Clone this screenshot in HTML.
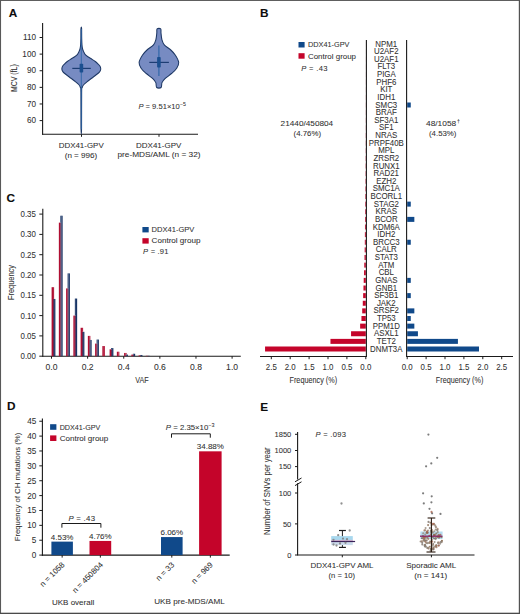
<!DOCTYPE html>
<html><head><meta charset="utf-8"><style>
html,body{margin:0;padding:0;background:#fff;overflow:hidden;width:520px;height:614px;}
.wrap{position:relative;width:520px;height:614px;overflow:hidden;}
svg{display:block;font-family:"Liberation Sans", sans-serif;}
</style></head><body><div class="wrap">
<svg width="520" height="614" viewBox="0 0 520 614">
<rect x="0" y="0" width="520" height="614" fill="#fff"/>
<text x="8.8" y="16.7" font-size="11.8" text-anchor="start" fill="#0d0d0d" stroke="#0d0d0d" stroke-width="0.1" font-weight="bold" font-style="normal" >A</text>
<text x="260.0" y="16.5" font-size="11.8" text-anchor="start" fill="#0d0d0d" stroke="#0d0d0d" stroke-width="0.1" font-weight="bold" font-style="normal" >B</text>
<text x="6.6" y="202.1" font-size="11.8" text-anchor="start" fill="#0d0d0d" stroke="#0d0d0d" stroke-width="0.1" font-weight="bold" font-style="normal" >C</text>
<text x="7.0" y="410.4" font-size="11.8" text-anchor="start" fill="#0d0d0d" stroke="#0d0d0d" stroke-width="0.1" font-weight="bold" font-style="normal" >D</text>
<text x="260.2" y="410.7" font-size="11.8" text-anchor="start" fill="#0d0d0d" stroke="#0d0d0d" stroke-width="0.1" font-weight="bold" font-style="normal" >E</text>
<line x1="42.6" y1="23" x2="42.6" y2="134.8" stroke="#1a1a1a" stroke-width="1.1" />
<line x1="42.050000000000004" y1="134.3" x2="198" y2="134.3" stroke="#1a1a1a" stroke-width="1.1" />
<line x1="39.6" y1="120.6" x2="42.6" y2="120.6" stroke="#1a1a1a" stroke-width="1" />
<text x="36.0" y="123.2" font-size="8.6" text-anchor="end" fill="#303030" stroke="#303030" stroke-width="0.06" font-weight="normal" font-style="normal" textLength="9.09" lengthAdjust="spacingAndGlyphs" >60</text>
<line x1="39.6" y1="103.97999999999999" x2="42.6" y2="103.97999999999999" stroke="#1a1a1a" stroke-width="1" />
<text x="36.0" y="106.58" font-size="8.6" text-anchor="end" fill="#303030" stroke="#303030" stroke-width="0.06" font-weight="normal" font-style="normal" textLength="9.09" lengthAdjust="spacingAndGlyphs" >70</text>
<line x1="39.6" y1="87.36" x2="42.6" y2="87.36" stroke="#1a1a1a" stroke-width="1" />
<text x="36.0" y="89.96" font-size="8.6" text-anchor="end" fill="#303030" stroke="#303030" stroke-width="0.06" font-weight="normal" font-style="normal" textLength="9.09" lengthAdjust="spacingAndGlyphs" >80</text>
<line x1="39.6" y1="70.74" x2="42.6" y2="70.74" stroke="#1a1a1a" stroke-width="1" />
<text x="36.0" y="73.34" font-size="8.6" text-anchor="end" fill="#303030" stroke="#303030" stroke-width="0.06" font-weight="normal" font-style="normal" textLength="9.09" lengthAdjust="spacingAndGlyphs" >90</text>
<line x1="39.6" y1="54.120000000000005" x2="42.6" y2="54.120000000000005" stroke="#1a1a1a" stroke-width="1" />
<text x="36.0" y="56.72" font-size="8.6" text-anchor="end" fill="#303030" stroke="#303030" stroke-width="0.06" font-weight="normal" font-style="normal" textLength="13.63" lengthAdjust="spacingAndGlyphs" >100</text>
<line x1="39.6" y1="37.5" x2="42.6" y2="37.5" stroke="#1a1a1a" stroke-width="1" />
<text x="36.0" y="40.1" font-size="8.6" text-anchor="end" fill="#303030" stroke="#303030" stroke-width="0.06" font-weight="normal" font-style="normal" textLength="13.03" lengthAdjust="spacingAndGlyphs" >110</text>
<line x1="81.5" y1="134.3" x2="81.5" y2="136.8" stroke="#1a1a1a" stroke-width="1" />
<line x1="159" y1="134.3" x2="159" y2="136.8" stroke="#1a1a1a" stroke-width="1" />
<text transform="translate(17.1,78.1) rotate(-90)" font-size="9.0" text-anchor="middle" fill="#303030" stroke="#303030" stroke-width="0.06" textLength="27.7" lengthAdjust="spacingAndGlyphs">MCV (fL)</text>
<text x="81.2" y="147.6" font-size="7.9" text-anchor="middle" fill="#303030" stroke="#303030" stroke-width="0.06" font-weight="normal" font-style="normal" textLength="45.0" lengthAdjust="spacingAndGlyphs" >DDX41-GPV</text>
<text x="81.0" y="157.7" font-size="7.9" text-anchor="middle" fill="#303030" stroke="#303030" stroke-width="0.06" font-weight="normal" font-style="normal" textLength="32.6" lengthAdjust="spacingAndGlyphs" >(n = 996)</text>
<text x="158.7" y="148.3" font-size="7.9" text-anchor="middle" fill="#303030" stroke="#303030" stroke-width="0.06" font-weight="normal" font-style="normal" textLength="45.2" lengthAdjust="spacingAndGlyphs" >DDX41-GPV</text>
<text x="159.0" y="157.0" font-size="7.9" text-anchor="middle" fill="#303030" stroke="#303030" stroke-width="0.06" font-weight="normal" font-style="normal" textLength="83.0" lengthAdjust="spacingAndGlyphs" >pre-MDS/AML (n = 32)</text>
<text x="138.4" y="109.0" font-size="7.6" text-anchor="start" fill="#303030" stroke="#303030" stroke-width="0.06"><tspan font-style="italic">P</tspan> = 9.51×10<tspan font-size="5.3" dy="-3.3">−5</tspan></text>
<path d="M81.60,28.20 C81.72,29.83 81.63,35.20 81.70,38.00 C81.77,40.80 81.85,43.17 82.00,45.00 C82.15,46.83 82.30,47.83 82.60,49.00 C82.90,50.17 83.35,51.07 83.80,52.00 C84.25,52.93 84.55,53.77 85.30,54.60 C86.05,55.43 87.20,56.23 88.30,57.00 C89.40,57.77 90.73,58.45 91.90,59.20 C93.07,59.95 94.30,60.73 95.30,61.50 C96.30,62.27 97.13,63.05 97.90,63.80 C98.67,64.55 99.43,65.23 99.90,66.00 C100.37,66.77 100.62,67.65 100.70,68.40 C100.78,69.15 100.77,69.73 100.40,70.50 C100.03,71.27 99.68,71.92 98.50,73.00 C97.32,74.08 95.05,75.67 93.30,77.00 C91.55,78.33 89.57,79.75 88.00,81.00 C86.43,82.25 84.87,83.42 83.90,84.50 C82.93,85.58 82.58,86.25 82.20,87.50 C81.83,88.75 81.76,85.05 81.65,92.00 C81.54,98.95 81.65,123.00 81.55,129.20 C81.45,135.40 81.15,135.40 81.05,129.20 C80.95,123.00 81.06,98.95 80.95,92.00 C80.84,85.05 80.77,88.75 80.40,87.50 C80.02,86.25 79.67,85.58 78.70,84.50 C77.73,83.42 76.17,82.25 74.60,81.00 C73.03,79.75 71.05,78.33 69.30,77.00 C67.55,75.67 65.28,74.08 64.10,73.00 C62.92,71.92 62.57,71.27 62.20,70.50 C61.83,69.73 61.82,69.15 61.90,68.40 C61.98,67.65 62.23,66.77 62.70,66.00 C63.17,65.23 63.93,64.55 64.70,63.80 C65.47,63.05 66.30,62.27 67.30,61.50 C68.30,60.73 69.53,59.95 70.70,59.20 C71.87,58.45 73.20,57.77 74.30,57.00 C75.40,56.23 76.55,55.43 77.30,54.60 C78.05,53.77 78.35,52.93 78.80,52.00 C79.25,51.07 79.70,50.17 80.00,49.00 C80.30,47.83 80.45,46.83 80.60,45.00 C80.75,43.17 80.83,40.80 80.90,38.00 C80.97,35.20 80.88,29.83 81.00,28.20 C81.12,26.57 81.48,26.57 81.60,28.20Z" fill="#778bc2" stroke="#1e3865" stroke-width="1.05" stroke-linejoin="round"/>
<path d="M160.70,28.90 C161.35,29.58 160.80,31.22 161.00,33.00 C161.20,34.78 161.35,37.63 161.90,39.60 C162.45,41.57 162.82,43.07 164.30,44.80 C165.78,46.53 168.95,48.27 170.80,50.00 C172.65,51.73 174.08,53.13 175.40,55.20 C176.72,57.27 178.48,60.23 178.70,62.40 C178.92,64.57 177.90,66.35 176.70,68.20 C175.50,70.05 173.45,71.75 171.50,73.50 C169.55,75.25 166.58,77.18 165.00,78.70 C163.42,80.22 162.65,81.13 162.00,82.60 C161.35,84.07 161.98,86.68 161.10,87.50 C160.22,88.32 157.58,88.32 156.70,87.50 C155.82,86.68 156.45,84.07 155.80,82.60 C155.15,81.13 154.38,80.22 152.80,78.70 C151.22,77.18 148.25,75.25 146.30,73.50 C144.35,71.75 142.30,70.05 141.10,68.20 C139.90,66.35 138.88,64.57 139.10,62.40 C139.32,60.23 141.08,57.27 142.40,55.20 C143.72,53.13 145.15,51.73 147.00,50.00 C148.85,48.27 152.02,46.53 153.50,44.80 C154.98,43.07 155.35,41.57 155.90,39.60 C156.45,37.63 156.60,34.78 156.80,33.00 C157.00,31.22 156.45,29.58 157.10,28.90 C157.75,28.22 160.05,28.22 160.70,28.90Z" fill="#778bc2" stroke="#1e3865" stroke-width="1.05" stroke-linejoin="round"/>
<line x1="81.3" y1="29.0" x2="81.3" y2="129.5" stroke="#3068a8" stroke-width="0.9" />
<line x1="72.3" y1="68.4" x2="90.8" y2="68.4" stroke="#1d3d73" stroke-width="1.2" />
<rect x="79.60" y="63.80" width="3.60" height="8.70" fill="#1b4f8f" rx="0.8"/>
<line x1="158.9" y1="45.4" x2="158.9" y2="76" stroke="#2b64a6" stroke-width="1.1" />
<line x1="149.3" y1="62.4" x2="168.9" y2="62.4" stroke="#1d3d73" stroke-width="1.2" />
<rect x="157.10" y="57.00" width="3.60" height="10.60" fill="#1b4f8f" rx="0.8"/>
<rect x="365.78" y="41.50" width="0.02" height="5.00" fill="#c4042a" />
<text x="386.3" y="46.6" font-size="8.2" text-anchor="middle" fill="#303030" stroke="#303030" stroke-width="0.06" font-weight="normal" font-style="normal" textLength="21.87" lengthAdjust="spacingAndGlyphs" >NPM1</text>
<rect x="365.78" y="49.12" width="0.02" height="5.00" fill="#c4042a" />
<text x="386.3" y="54.23" font-size="8.2" text-anchor="middle" fill="#303030" stroke="#303030" stroke-width="0.06" font-weight="normal" font-style="normal" textLength="24.5" lengthAdjust="spacingAndGlyphs" >U2AF2</text>
<rect x="365.76" y="56.75" width="0.04" height="5.00" fill="#c4042a" />
<text x="386.3" y="61.85" font-size="8.2" text-anchor="middle" fill="#303030" stroke="#303030" stroke-width="0.06" font-weight="normal" font-style="normal" textLength="24.5" lengthAdjust="spacingAndGlyphs" >U2AF1</text>
<rect x="365.76" y="64.38" width="0.04" height="5.00" fill="#c4042a" />
<text x="386.3" y="69.47" font-size="8.2" text-anchor="middle" fill="#303030" stroke="#303030" stroke-width="0.06" font-weight="normal" font-style="normal" textLength="17.79" lengthAdjust="spacingAndGlyphs" >FLT3</text>
<rect x="365.76" y="72.00" width="0.04" height="5.00" fill="#c4042a" />
<text x="386.3" y="77.1" font-size="8.2" text-anchor="middle" fill="#303030" stroke="#303030" stroke-width="0.06" font-weight="normal" font-style="normal" textLength="18.81" lengthAdjust="spacingAndGlyphs" >PIGA</text>
<rect x="365.74" y="79.62" width="0.06" height="5.00" fill="#c4042a" />
<text x="386.3" y="84.72" font-size="8.2" text-anchor="middle" fill="#303030" stroke="#303030" stroke-width="0.06" font-weight="normal" font-style="normal" textLength="20.12" lengthAdjust="spacingAndGlyphs" >PHF6</text>
<rect x="365.74" y="87.25" width="0.06" height="5.00" fill="#c4042a" />
<text x="386.3" y="92.35" font-size="8.2" text-anchor="middle" fill="#303030" stroke="#303030" stroke-width="0.06" font-weight="normal" font-style="normal" textLength="12.25" lengthAdjust="spacingAndGlyphs" >KIT</text>
<rect x="365.72" y="94.88" width="0.08" height="5.00" fill="#c4042a" />
<text x="386.3" y="99.97" font-size="8.2" text-anchor="middle" fill="#303030" stroke="#303030" stroke-width="0.06" font-weight="normal" font-style="normal" textLength="17.93" lengthAdjust="spacingAndGlyphs" >IDH1</text>
<rect x="365.72" y="102.50" width="0.08" height="5.00" fill="#c4042a" />
<rect x="407.20" y="102.50" width="3.57" height="5.00" fill="#10498a" />
<text x="386.3" y="107.6" font-size="8.2" text-anchor="middle" fill="#303030" stroke="#303030" stroke-width="0.06" font-weight="normal" font-style="normal" textLength="21.87" lengthAdjust="spacingAndGlyphs" >SMC3</text>
<rect x="365.71" y="110.12" width="0.09" height="5.00" fill="#c4042a" />
<text x="386.3" y="115.22" font-size="8.2" text-anchor="middle" fill="#303030" stroke="#303030" stroke-width="0.06" font-weight="normal" font-style="normal" textLength="20.99" lengthAdjust="spacingAndGlyphs" >BRAF</text>
<rect x="365.69" y="117.75" width="0.11" height="5.00" fill="#c4042a" />
<text x="386.3" y="122.85" font-size="8.2" text-anchor="middle" fill="#303030" stroke="#303030" stroke-width="0.06" font-weight="normal" font-style="normal" textLength="24.07" lengthAdjust="spacingAndGlyphs" >SF3A1</text>
<rect x="365.69" y="125.38" width="0.11" height="5.00" fill="#c4042a" />
<text x="386.3" y="130.47" font-size="8.2" text-anchor="middle" fill="#303030" stroke="#303030" stroke-width="0.06" font-weight="normal" font-style="normal" textLength="14.44" lengthAdjust="spacingAndGlyphs" >SF1</text>
<rect x="365.65" y="133.00" width="0.15" height="5.00" fill="#c4042a" />
<text x="386.3" y="138.1" font-size="8.2" text-anchor="middle" fill="#303030" stroke="#303030" stroke-width="0.06" font-weight="normal" font-style="normal" textLength="21.87" lengthAdjust="spacingAndGlyphs" >NRAS</text>
<rect x="365.65" y="140.62" width="0.15" height="5.00" fill="#c4042a" />
<text x="386.3" y="145.72" font-size="8.2" text-anchor="middle" fill="#303030" stroke="#303030" stroke-width="0.06" font-weight="normal" font-style="normal" textLength="35.0" lengthAdjust="spacingAndGlyphs" >PRPF40B</text>
<rect x="365.61" y="148.25" width="0.19" height="5.00" fill="#c4042a" />
<text x="386.3" y="153.35" font-size="8.2" text-anchor="middle" fill="#303030" stroke="#303030" stroke-width="0.06" font-weight="normal" font-style="normal" textLength="16.19" lengthAdjust="spacingAndGlyphs" >MPL</text>
<rect x="365.57" y="155.88" width="0.23" height="5.00" fill="#c4042a" />
<text x="386.3" y="160.97" font-size="8.2" text-anchor="middle" fill="#303030" stroke="#303030" stroke-width="0.06" font-weight="normal" font-style="normal" textLength="25.81" lengthAdjust="spacingAndGlyphs" >ZRSR2</text>
<rect x="365.54" y="163.50" width="0.26" height="5.00" fill="#c4042a" />
<text x="386.3" y="168.6" font-size="8.2" text-anchor="middle" fill="#303030" stroke="#303030" stroke-width="0.06" font-weight="normal" font-style="normal" textLength="26.68" lengthAdjust="spacingAndGlyphs" >RUNX1</text>
<rect x="365.50" y="171.12" width="0.30" height="5.00" fill="#c4042a" />
<text x="386.3" y="176.22" font-size="8.2" text-anchor="middle" fill="#303030" stroke="#303030" stroke-width="0.06" font-weight="normal" font-style="normal" textLength="25.38" lengthAdjust="spacingAndGlyphs" >RAD21</text>
<rect x="365.42" y="178.75" width="0.38" height="5.00" fill="#c4042a" />
<text x="386.3" y="183.85" font-size="8.2" text-anchor="middle" fill="#303030" stroke="#303030" stroke-width="0.06" font-weight="normal" font-style="normal" textLength="20.12" lengthAdjust="spacingAndGlyphs" >EZH2</text>
<rect x="365.35" y="186.38" width="0.45" height="5.00" fill="#c4042a" />
<text x="386.3" y="191.47" font-size="8.2" text-anchor="middle" fill="#303030" stroke="#303030" stroke-width="0.06" font-weight="normal" font-style="normal" textLength="27.12" lengthAdjust="spacingAndGlyphs" >SMC1A</text>
<rect x="365.27" y="194.00" width="0.53" height="5.00" fill="#c4042a" />
<text x="386.3" y="199.1" font-size="8.2" text-anchor="middle" fill="#303030" stroke="#303030" stroke-width="0.06" font-weight="normal" font-style="normal" textLength="31.5" lengthAdjust="spacingAndGlyphs" >BCORL1</text>
<rect x="365.20" y="201.62" width="0.60" height="5.00" fill="#c4042a" />
<rect x="407.20" y="201.62" width="3.57" height="5.00" fill="#10498a" />
<text x="386.3" y="206.72" font-size="8.2" text-anchor="middle" fill="#303030" stroke="#303030" stroke-width="0.06" font-weight="normal" font-style="normal" textLength="25.23" lengthAdjust="spacingAndGlyphs" >STAG2</text>
<rect x="365.12" y="209.25" width="0.68" height="5.00" fill="#c4042a" />
<text x="386.3" y="214.35" font-size="8.2" text-anchor="middle" fill="#303030" stroke="#303030" stroke-width="0.06" font-weight="normal" font-style="normal" textLength="21.44" lengthAdjust="spacingAndGlyphs" >KRAS</text>
<rect x="365.04" y="216.88" width="0.76" height="5.00" fill="#c4042a" />
<rect x="407.20" y="216.88" width="7.14" height="5.00" fill="#10498a" />
<text x="386.3" y="221.97" font-size="8.2" text-anchor="middle" fill="#303030" stroke="#303030" stroke-width="0.06" font-weight="normal" font-style="normal" textLength="22.74" lengthAdjust="spacingAndGlyphs" >BCOR</text>
<rect x="364.97" y="224.50" width="0.83" height="5.00" fill="#c4042a" />
<text x="386.3" y="229.6" font-size="8.2" text-anchor="middle" fill="#303030" stroke="#303030" stroke-width="0.06" font-weight="normal" font-style="normal" textLength="27.12" lengthAdjust="spacingAndGlyphs" >KDM6A</text>
<rect x="364.89" y="232.12" width="0.91" height="5.00" fill="#c4042a" />
<text x="386.3" y="237.22" font-size="8.2" text-anchor="middle" fill="#303030" stroke="#303030" stroke-width="0.06" font-weight="normal" font-style="normal" textLength="17.93" lengthAdjust="spacingAndGlyphs" >IDH2</text>
<rect x="364.82" y="239.75" width="0.98" height="5.00" fill="#c4042a" />
<rect x="407.20" y="239.75" width="3.57" height="5.00" fill="#10498a" />
<text x="386.3" y="244.85" font-size="8.2" text-anchor="middle" fill="#303030" stroke="#303030" stroke-width="0.06" font-weight="normal" font-style="normal" textLength="26.68" lengthAdjust="spacingAndGlyphs" >BRCC3</text>
<rect x="364.67" y="247.38" width="1.13" height="5.00" fill="#c4042a" />
<text x="386.3" y="252.47" font-size="8.2" text-anchor="middle" fill="#303030" stroke="#303030" stroke-width="0.06" font-weight="normal" font-style="normal" textLength="21.0" lengthAdjust="spacingAndGlyphs" >CALR</text>
<rect x="364.51" y="255.00" width="1.29" height="5.00" fill="#c4042a" />
<text x="386.3" y="260.1" font-size="8.2" text-anchor="middle" fill="#303030" stroke="#303030" stroke-width="0.06" font-weight="normal" font-style="normal" textLength="23.33" lengthAdjust="spacingAndGlyphs" >STAT3</text>
<rect x="364.29" y="262.62" width="1.51" height="5.00" fill="#c4042a" />
<text x="386.3" y="267.73" font-size="8.2" text-anchor="middle" fill="#303030" stroke="#303030" stroke-width="0.06" font-weight="normal" font-style="normal" textLength="16.03" lengthAdjust="spacingAndGlyphs" >ATM</text>
<rect x="364.06" y="270.25" width="1.74" height="5.00" fill="#c4042a" />
<text x="386.3" y="275.35" font-size="8.2" text-anchor="middle" fill="#303030" stroke="#303030" stroke-width="0.06" font-weight="normal" font-style="normal" textLength="15.31" lengthAdjust="spacingAndGlyphs" >CBL</text>
<rect x="363.72" y="277.88" width="2.08" height="5.00" fill="#c4042a" />
<rect x="407.20" y="277.88" width="3.57" height="5.00" fill="#10498a" />
<text x="386.3" y="282.98" font-size="8.2" text-anchor="middle" fill="#303030" stroke="#303030" stroke-width="0.06" font-weight="normal" font-style="normal" textLength="22.31" lengthAdjust="spacingAndGlyphs" >GNAS</text>
<rect x="363.46" y="285.50" width="2.34" height="5.00" fill="#c4042a" />
<text x="386.3" y="290.6" font-size="8.2" text-anchor="middle" fill="#303030" stroke="#303030" stroke-width="0.06" font-weight="normal" font-style="normal" textLength="21.44" lengthAdjust="spacingAndGlyphs" >GNB1</text>
<rect x="363.15" y="293.12" width="2.65" height="5.00" fill="#c4042a" />
<rect x="407.20" y="293.12" width="3.57" height="5.00" fill="#10498a" />
<text x="386.3" y="298.23" font-size="8.2" text-anchor="middle" fill="#303030" stroke="#303030" stroke-width="0.06" font-weight="normal" font-style="normal" textLength="24.07" lengthAdjust="spacingAndGlyphs" >SF3B1</text>
<rect x="362.78" y="300.75" width="3.02" height="5.00" fill="#c4042a" />
<text x="386.3" y="305.85" font-size="8.2" text-anchor="middle" fill="#303030" stroke="#303030" stroke-width="0.06" font-weight="normal" font-style="normal" textLength="18.82" lengthAdjust="spacingAndGlyphs" >JAK2</text>
<rect x="362.21" y="308.38" width="3.59" height="5.00" fill="#c4042a" />
<rect x="407.20" y="308.38" width="7.14" height="5.00" fill="#10498a" />
<text x="386.3" y="313.48" font-size="8.2" text-anchor="middle" fill="#303030" stroke="#303030" stroke-width="0.06" font-weight="normal" font-style="normal" textLength="25.37" lengthAdjust="spacingAndGlyphs" >SRSF2</text>
<rect x="361.45" y="316.00" width="4.35" height="5.00" fill="#c4042a" />
<rect x="407.20" y="316.00" width="3.57" height="5.00" fill="#10498a" />
<text x="386.3" y="321.1" font-size="8.2" text-anchor="middle" fill="#303030" stroke="#303030" stroke-width="0.06" font-weight="normal" font-style="normal" textLength="18.82" lengthAdjust="spacingAndGlyphs" >TP53</text>
<rect x="360.13" y="323.62" width="5.67" height="5.00" fill="#c4042a" />
<rect x="407.20" y="323.62" width="7.14" height="5.00" fill="#10498a" />
<text x="386.3" y="328.73" font-size="8.2" text-anchor="middle" fill="#303030" stroke="#303030" stroke-width="0.06" font-weight="normal" font-style="normal" textLength="27.12" lengthAdjust="spacingAndGlyphs" >PPM1D</text>
<rect x="351.06" y="331.25" width="14.74" height="5.00" fill="#c4042a" />
<rect x="407.20" y="331.25" width="10.72" height="5.00" fill="#10498a" />
<text x="386.3" y="336.35" font-size="8.2" text-anchor="middle" fill="#303030" stroke="#303030" stroke-width="0.06" font-weight="normal" font-style="normal" textLength="24.51" lengthAdjust="spacingAndGlyphs" >ASXL1</text>
<rect x="330.46" y="338.88" width="35.34" height="5.00" fill="#c4042a" />
<rect x="407.20" y="338.88" width="50.72" height="5.00" fill="#10498a" />
<text x="386.3" y="343.98" font-size="8.2" text-anchor="middle" fill="#303030" stroke="#303030" stroke-width="0.06" font-weight="normal" font-style="normal" textLength="19.25" lengthAdjust="spacingAndGlyphs" >TET2</text>
<rect x="265.06" y="346.50" width="100.74" height="5.00" fill="#c4042a" />
<rect x="407.20" y="346.50" width="71.80" height="5.00" fill="#10498a" />
<text x="386.3" y="351.6" font-size="8.2" text-anchor="middle" fill="#303030" stroke="#303030" stroke-width="0.06" font-weight="normal" font-style="normal" textLength="32.36" lengthAdjust="spacingAndGlyphs" >DNMT3A</text>
<line x1="366.4" y1="40" x2="366.4" y2="357" stroke="#1a1a1a" stroke-width="1.1" />
<line x1="406.6" y1="40" x2="406.6" y2="357" stroke="#1a1a1a" stroke-width="1.1" />
<line x1="260" y1="356.5" x2="366.9" y2="356.5" stroke="#1a1a1a" stroke-width="1.1" />
<line x1="406.1" y1="356.5" x2="513" y2="356.5" stroke="#1a1a1a" stroke-width="1.1" />
<line x1="365.8" y1="356.5" x2="365.8" y2="359.2" stroke="#1a1a1a" stroke-width="1" />
<text x="365.8" y="369.7" font-size="8.3" text-anchor="middle" fill="#303030" stroke="#303030" stroke-width="0.06" font-weight="normal" font-style="normal" textLength="10.96" lengthAdjust="spacingAndGlyphs" >0.0</text>
<line x1="407.2" y1="356.5" x2="407.2" y2="359.2" stroke="#1a1a1a" stroke-width="1" />
<text x="407.2" y="369.7" font-size="8.3" text-anchor="middle" fill="#303030" stroke="#303030" stroke-width="0.06" font-weight="normal" font-style="normal" textLength="10.96" lengthAdjust="spacingAndGlyphs" >0.0</text>
<line x1="346.90000000000003" y1="356.5" x2="346.90000000000003" y2="359.2" stroke="#1a1a1a" stroke-width="1" />
<text x="346.9" y="369.7" font-size="8.3" text-anchor="middle" fill="#303030" stroke="#303030" stroke-width="0.06" font-weight="normal" font-style="normal" textLength="10.96" lengthAdjust="spacingAndGlyphs" >0.5</text>
<line x1="426.09999999999997" y1="356.5" x2="426.09999999999997" y2="359.2" stroke="#1a1a1a" stroke-width="1" />
<text x="426.1" y="369.7" font-size="8.3" text-anchor="middle" fill="#303030" stroke="#303030" stroke-width="0.06" font-weight="normal" font-style="normal" textLength="10.96" lengthAdjust="spacingAndGlyphs" >0.5</text>
<line x1="328.0" y1="356.5" x2="328.0" y2="359.2" stroke="#1a1a1a" stroke-width="1" />
<text x="328.0" y="369.7" font-size="8.3" text-anchor="middle" fill="#303030" stroke="#303030" stroke-width="0.06" font-weight="normal" font-style="normal" textLength="10.96" lengthAdjust="spacingAndGlyphs" >1.0</text>
<line x1="445.0" y1="356.5" x2="445.0" y2="359.2" stroke="#1a1a1a" stroke-width="1" />
<text x="445.0" y="369.7" font-size="8.3" text-anchor="middle" fill="#303030" stroke="#303030" stroke-width="0.06" font-weight="normal" font-style="normal" textLength="10.96" lengthAdjust="spacingAndGlyphs" >1.0</text>
<line x1="309.1" y1="356.5" x2="309.1" y2="359.2" stroke="#1a1a1a" stroke-width="1" />
<text x="309.1" y="369.7" font-size="8.3" text-anchor="middle" fill="#303030" stroke="#303030" stroke-width="0.06" font-weight="normal" font-style="normal" textLength="10.96" lengthAdjust="spacingAndGlyphs" >1.5</text>
<line x1="463.9" y1="356.5" x2="463.9" y2="359.2" stroke="#1a1a1a" stroke-width="1" />
<text x="463.9" y="369.7" font-size="8.3" text-anchor="middle" fill="#303030" stroke="#303030" stroke-width="0.06" font-weight="normal" font-style="normal" textLength="10.96" lengthAdjust="spacingAndGlyphs" >1.5</text>
<line x1="290.20000000000005" y1="356.5" x2="290.20000000000005" y2="359.2" stroke="#1a1a1a" stroke-width="1" />
<text x="290.2" y="369.7" font-size="8.3" text-anchor="middle" fill="#303030" stroke="#303030" stroke-width="0.06" font-weight="normal" font-style="normal" textLength="10.96" lengthAdjust="spacingAndGlyphs" >2.0</text>
<line x1="482.79999999999995" y1="356.5" x2="482.79999999999995" y2="359.2" stroke="#1a1a1a" stroke-width="1" />
<text x="482.8" y="369.7" font-size="8.3" text-anchor="middle" fill="#303030" stroke="#303030" stroke-width="0.06" font-weight="normal" font-style="normal" textLength="10.96" lengthAdjust="spacingAndGlyphs" >2.0</text>
<line x1="271.3" y1="356.5" x2="271.3" y2="359.2" stroke="#1a1a1a" stroke-width="1" />
<text x="271.3" y="369.7" font-size="8.3" text-anchor="middle" fill="#303030" stroke="#303030" stroke-width="0.06" font-weight="normal" font-style="normal" textLength="10.96" lengthAdjust="spacingAndGlyphs" >2.5</text>
<line x1="501.7" y1="356.5" x2="501.7" y2="359.2" stroke="#1a1a1a" stroke-width="1" />
<text x="501.7" y="369.7" font-size="8.3" text-anchor="middle" fill="#303030" stroke="#303030" stroke-width="0.06" font-weight="normal" font-style="normal" textLength="10.96" lengthAdjust="spacingAndGlyphs" >2.5</text>
<text x="313.3" y="382.7" font-size="8.5" text-anchor="middle" fill="#303030" stroke="#303030" stroke-width="0.06" font-weight="normal" font-style="normal" textLength="47.6" lengthAdjust="spacingAndGlyphs" >Frequency (%)</text>
<text x="459.6" y="382.7" font-size="8.5" text-anchor="middle" fill="#303030" stroke="#303030" stroke-width="0.06" font-weight="normal" font-style="normal" textLength="47.6" lengthAdjust="spacingAndGlyphs" >Frequency (%)</text>
<rect x="298.50" y="42.00" width="6.10" height="5.50" fill="#10498a" />
<rect x="298.50" y="53.20" width="6.10" height="5.50" fill="#c4042a" />
<text x="308.0" y="47.3" font-size="7.5" text-anchor="start" fill="#303030" stroke="#303030" stroke-width="0.06" font-weight="normal" font-style="normal" textLength="41.4" lengthAdjust="spacingAndGlyphs" >DDX41-GPV</text>
<text x="308.0" y="58.5" font-size="7.5" text-anchor="start" fill="#303030" stroke="#303030" stroke-width="0.06" font-weight="normal" font-style="normal" textLength="48.0" lengthAdjust="spacingAndGlyphs" >Control group</text>
<text x="301.3" y="71.2" font-size="7.6" text-anchor="start" fill="#303030" stroke="#303030" stroke-width="0.06" textLength="26.2" lengthAdjust="spacing"><tspan font-style="italic">P</tspan> = .43</text>
<text x="306.9" y="126.2" font-size="7.5" text-anchor="middle" fill="#303030" stroke="#303030" stroke-width="0.06" font-weight="normal" font-style="normal" textLength="52.6" lengthAdjust="spacingAndGlyphs" >21440/450804</text>
<text x="307.3" y="135.6" font-size="7.5" text-anchor="middle" fill="#303030" stroke="#303030" stroke-width="0.06" font-weight="normal" font-style="normal" textLength="27.4" lengthAdjust="spacingAndGlyphs" >(4.76%)</text>
<text x="426.0" y="126.2" font-size="7.6" text-anchor="start" fill="#303030" stroke="#303030" stroke-width="0.06" font-weight="normal" font-style="normal" textLength="30.2" lengthAdjust="spacingAndGlyphs" >48/1058</text>
<text x="456.9" y="123.2" font-size="5.2" text-anchor="start" fill="#303030" stroke="#303030" stroke-width="0.06" font-weight="normal" font-style="normal" >†</text>
<text x="442.7" y="135.6" font-size="7.5" text-anchor="middle" fill="#303030" stroke="#303030" stroke-width="0.06" font-weight="normal" font-style="normal" textLength="27.4" lengthAdjust="spacingAndGlyphs" >(4.53%)</text>
<line x1="42.8" y1="208.7" x2="42.8" y2="356.8" stroke="#1a1a1a" stroke-width="1.1" />
<line x1="42.3" y1="356.2" x2="240.8" y2="356.2" stroke="#1a1a1a" stroke-width="1.1" />
<line x1="39.3" y1="356.2" x2="42.8" y2="356.2" stroke="#1a1a1a" stroke-width="1" />
<text x="35.9" y="359.1" font-size="8.6" text-anchor="end" fill="#303030" stroke="#303030" stroke-width="0.06" font-weight="normal" font-style="normal" textLength="15.4" lengthAdjust="spacingAndGlyphs" >0.00</text>
<line x1="39.3" y1="335.9" x2="42.8" y2="335.9" stroke="#1a1a1a" stroke-width="1" />
<text x="35.9" y="338.8" font-size="8.6" text-anchor="end" fill="#303030" stroke="#303030" stroke-width="0.06" font-weight="normal" font-style="normal" textLength="15.4" lengthAdjust="spacingAndGlyphs" >0.05</text>
<line x1="39.3" y1="315.59999999999997" x2="42.8" y2="315.59999999999997" stroke="#1a1a1a" stroke-width="1" />
<text x="35.9" y="318.5" font-size="8.6" text-anchor="end" fill="#303030" stroke="#303030" stroke-width="0.06" font-weight="normal" font-style="normal" textLength="15.4" lengthAdjust="spacingAndGlyphs" >0.10</text>
<line x1="39.3" y1="295.29999999999995" x2="42.8" y2="295.29999999999995" stroke="#1a1a1a" stroke-width="1" />
<text x="35.9" y="298.2" font-size="8.6" text-anchor="end" fill="#303030" stroke="#303030" stroke-width="0.06" font-weight="normal" font-style="normal" textLength="15.4" lengthAdjust="spacingAndGlyphs" >0.15</text>
<line x1="39.3" y1="275.0" x2="42.8" y2="275.0" stroke="#1a1a1a" stroke-width="1" />
<text x="35.9" y="277.9" font-size="8.6" text-anchor="end" fill="#303030" stroke="#303030" stroke-width="0.06" font-weight="normal" font-style="normal" textLength="15.4" lengthAdjust="spacingAndGlyphs" >0.20</text>
<line x1="39.3" y1="254.7" x2="42.8" y2="254.7" stroke="#1a1a1a" stroke-width="1" />
<text x="35.9" y="257.6" font-size="8.6" text-anchor="end" fill="#303030" stroke="#303030" stroke-width="0.06" font-weight="normal" font-style="normal" textLength="15.4" lengthAdjust="spacingAndGlyphs" >0.25</text>
<line x1="39.3" y1="234.39999999999998" x2="42.8" y2="234.39999999999998" stroke="#1a1a1a" stroke-width="1" />
<text x="35.9" y="237.3" font-size="8.6" text-anchor="end" fill="#303030" stroke="#303030" stroke-width="0.06" font-weight="normal" font-style="normal" textLength="15.4" lengthAdjust="spacingAndGlyphs" >0.30</text>
<line x1="39.3" y1="214.09999999999997" x2="42.8" y2="214.09999999999997" stroke="#1a1a1a" stroke-width="1" />
<text x="35.9" y="217.0" font-size="8.6" text-anchor="end" fill="#303030" stroke="#303030" stroke-width="0.06" font-weight="normal" font-style="normal" textLength="15.4" lengthAdjust="spacingAndGlyphs" >0.35</text>
<line x1="51.5" y1="356.2" x2="51.5" y2="358.7" stroke="#1a1a1a" stroke-width="1" />
<text x="51.5" y="370.0" font-size="8.6" text-anchor="middle" fill="#303030" stroke="#303030" stroke-width="0.06" font-weight="normal" font-style="normal" >0.0</text>
<line x1="87.62" y1="356.2" x2="87.62" y2="358.7" stroke="#1a1a1a" stroke-width="1" />
<text x="87.62" y="370.0" font-size="8.6" text-anchor="middle" fill="#303030" stroke="#303030" stroke-width="0.06" font-weight="normal" font-style="normal" >0.2</text>
<line x1="123.74" y1="356.2" x2="123.74" y2="358.7" stroke="#1a1a1a" stroke-width="1" />
<text x="123.74" y="370.0" font-size="8.6" text-anchor="middle" fill="#303030" stroke="#303030" stroke-width="0.06" font-weight="normal" font-style="normal" >0.4</text>
<line x1="159.86" y1="356.2" x2="159.86" y2="358.7" stroke="#1a1a1a" stroke-width="1" />
<text x="159.86" y="370.0" font-size="8.6" text-anchor="middle" fill="#303030" stroke="#303030" stroke-width="0.06" font-weight="normal" font-style="normal" >0.6</text>
<line x1="195.98" y1="356.2" x2="195.98" y2="358.7" stroke="#1a1a1a" stroke-width="1" />
<text x="195.98" y="370.0" font-size="8.6" text-anchor="middle" fill="#303030" stroke="#303030" stroke-width="0.06" font-weight="normal" font-style="normal" >0.8</text>
<line x1="232.1" y1="356.2" x2="232.1" y2="358.7" stroke="#1a1a1a" stroke-width="1" />
<text x="232.1" y="370.0" font-size="8.6" text-anchor="middle" fill="#303030" stroke="#303030" stroke-width="0.06" font-weight="normal" font-style="normal" >1.0</text>
<text x="141.9" y="383.0" font-size="9.2" text-anchor="middle" fill="#303030" stroke="#303030" stroke-width="0.06" font-weight="normal" font-style="normal" textLength="13.4" lengthAdjust="spacingAndGlyphs" >VAF</text>
<text transform="translate(14.3,282.5) rotate(-90)" font-size="8.4" text-anchor="middle" fill="#303030" stroke="#303030" stroke-width="0.06" textLength="35" lengthAdjust="spacingAndGlyphs">Frequency</text>
<rect x="51.60" y="287.18" width="1.50" height="69.02" fill="#b00e32" />
<rect x="53.10" y="298.95" width="1.00" height="57.25" fill="#55163f" />
<rect x="53.10" y="287.18" width="1.00" height="11.77" fill="#b00e32" />
<rect x="54.10" y="298.95" width="1.30" height="57.25" fill="#173465" />
<rect x="58.85" y="222.63" width="1.50" height="133.57" fill="#b00e32" />
<rect x="60.35" y="222.63" width="1.00" height="133.57" fill="#55163f" />
<rect x="60.35" y="215.72" width="1.00" height="6.90" fill="#173465" />
<rect x="61.35" y="215.72" width="1.30" height="140.48" fill="#173465" />
<rect x="66.10" y="288.40" width="1.50" height="67.80" fill="#b00e32" />
<rect x="67.60" y="288.40" width="1.00" height="67.80" fill="#55163f" />
<rect x="67.60" y="273.38" width="1.00" height="15.02" fill="#173465" />
<rect x="68.60" y="273.38" width="1.30" height="82.82" fill="#173465" />
<rect x="73.35" y="315.60" width="1.50" height="40.60" fill="#b00e32" />
<rect x="74.85" y="315.60" width="1.00" height="40.60" fill="#55163f" />
<rect x="74.85" y="298.55" width="1.00" height="17.05" fill="#173465" />
<rect x="75.85" y="298.55" width="1.30" height="57.65" fill="#173465" />
<rect x="80.60" y="327.78" width="1.50" height="28.42" fill="#b00e32" />
<rect x="82.10" y="331.84" width="1.00" height="24.36" fill="#55163f" />
<rect x="82.10" y="327.78" width="1.00" height="4.06" fill="#b00e32" />
<rect x="83.10" y="331.84" width="1.30" height="24.36" fill="#173465" />
<rect x="87.85" y="335.90" width="1.50" height="20.30" fill="#b00e32" />
<rect x="89.35" y="339.96" width="1.00" height="16.24" fill="#55163f" />
<rect x="89.35" y="335.90" width="1.00" height="4.06" fill="#b00e32" />
<rect x="90.35" y="339.96" width="1.30" height="16.24" fill="#173465" />
<rect x="95.10" y="343.61" width="1.50" height="12.59" fill="#b00e32" />
<rect x="96.60" y="343.61" width="1.00" height="12.59" fill="#55163f" />
<rect x="96.60" y="339.55" width="1.00" height="4.06" fill="#173465" />
<rect x="97.60" y="339.55" width="1.30" height="16.65" fill="#173465" />
<rect x="102.35" y="346.05" width="1.50" height="10.15" fill="#b00e32" />
<rect x="103.85" y="346.05" width="1.00" height="10.15" fill="#b00e32" />
<rect x="109.60" y="349.30" width="1.50" height="6.90" fill="#b00e32" />
<rect x="111.10" y="349.30" width="1.00" height="6.90" fill="#55163f" />
<rect x="111.10" y="348.08" width="1.00" height="1.22" fill="#173465" />
<rect x="112.10" y="348.08" width="1.30" height="8.12" fill="#173465" />
<rect x="116.85" y="351.73" width="1.50" height="4.47" fill="#b00e32" />
<rect x="118.35" y="351.73" width="1.00" height="4.47" fill="#b00e32" />
<rect x="124.10" y="352.95" width="1.50" height="3.25" fill="#b00e32" />
<rect x="125.60" y="354.58" width="1.00" height="1.62" fill="#55163f" />
<rect x="125.60" y="352.95" width="1.00" height="1.62" fill="#b00e32" />
<rect x="126.60" y="354.58" width="1.30" height="1.62" fill="#173465" />
<rect x="131.35" y="354.58" width="1.50" height="1.62" fill="#b00e32" />
<rect x="132.85" y="354.58" width="1.00" height="1.62" fill="#55163f" />
<rect x="132.85" y="353.76" width="1.00" height="0.81" fill="#173465" />
<rect x="133.85" y="353.76" width="1.30" height="2.44" fill="#173465" />
<rect x="138.60" y="355.39" width="1.50" height="0.81" fill="#b00e32" />
<rect x="140.10" y="355.39" width="1.00" height="0.81" fill="#55163f" />
<rect x="140.10" y="354.98" width="1.00" height="0.41" fill="#173465" />
<rect x="141.10" y="354.98" width="1.30" height="1.22" fill="#173465" />
<rect x="145.85" y="355.79" width="1.50" height="0.41" fill="#b00e32" />
<rect x="147.35" y="355.79" width="1.00" height="0.41" fill="#55163f" />
<rect x="148.35" y="355.79" width="1.30" height="0.41" fill="#173465" />
<rect x="142.40" y="227.00" width="6.30" height="5.40" fill="#10498a" />
<rect x="142.40" y="238.20" width="6.30" height="5.40" fill="#c4042a" />
<text x="151.6" y="231.9" font-size="7.5" text-anchor="start" fill="#303030" stroke="#303030" stroke-width="0.06" font-weight="normal" font-style="normal" textLength="42.8" lengthAdjust="spacingAndGlyphs" >DDX41-GPV</text>
<text x="151.6" y="243.0" font-size="7.5" text-anchor="start" fill="#303030" stroke="#303030" stroke-width="0.06" font-weight="normal" font-style="normal" textLength="48.9" lengthAdjust="spacingAndGlyphs" >Control group</text>
<text x="143.1" y="254.3" font-size="7.6" text-anchor="start" fill="#303030" stroke="#303030" stroke-width="0.06" textLength="25.4" lengthAdjust="spacing"><tspan font-style="italic">P</tspan> = .91</text>
<line x1="42.4" y1="418.4" x2="42.4" y2="555.8" stroke="#1a1a1a" stroke-width="1.1" />
<line x1="41.9" y1="555.1" x2="229.7" y2="555.1" stroke="#1a1a1a" stroke-width="1.1" />
<line x1="39.3" y1="555.1" x2="42.4" y2="555.1" stroke="#1a1a1a" stroke-width="1" />
<text x="36.3" y="558.0" font-size="8.2" text-anchor="end" fill="#303030" stroke="#303030" stroke-width="0.06" font-weight="normal" font-style="normal" >0</text>
<line x1="39.3" y1="540.225" x2="42.4" y2="540.225" stroke="#1a1a1a" stroke-width="1" />
<text x="36.3" y="543.12" font-size="8.2" text-anchor="end" fill="#303030" stroke="#303030" stroke-width="0.06" font-weight="normal" font-style="normal" >5</text>
<line x1="39.3" y1="525.35" x2="42.4" y2="525.35" stroke="#1a1a1a" stroke-width="1" />
<text x="36.3" y="528.25" font-size="8.2" text-anchor="end" fill="#303030" stroke="#303030" stroke-width="0.06" font-weight="normal" font-style="normal" >10</text>
<line x1="39.3" y1="510.475" x2="42.4" y2="510.475" stroke="#1a1a1a" stroke-width="1" />
<text x="36.3" y="513.38" font-size="8.2" text-anchor="end" fill="#303030" stroke="#303030" stroke-width="0.06" font-weight="normal" font-style="normal" >15</text>
<line x1="39.3" y1="495.6" x2="42.4" y2="495.6" stroke="#1a1a1a" stroke-width="1" />
<text x="36.3" y="498.5" font-size="8.2" text-anchor="end" fill="#303030" stroke="#303030" stroke-width="0.06" font-weight="normal" font-style="normal" >20</text>
<line x1="39.3" y1="480.725" x2="42.4" y2="480.725" stroke="#1a1a1a" stroke-width="1" />
<text x="36.3" y="483.62" font-size="8.2" text-anchor="end" fill="#303030" stroke="#303030" stroke-width="0.06" font-weight="normal" font-style="normal" >25</text>
<line x1="39.3" y1="465.85" x2="42.4" y2="465.85" stroke="#1a1a1a" stroke-width="1" />
<text x="36.3" y="468.75" font-size="8.2" text-anchor="end" fill="#303030" stroke="#303030" stroke-width="0.06" font-weight="normal" font-style="normal" >30</text>
<line x1="39.3" y1="450.975" x2="42.4" y2="450.975" stroke="#1a1a1a" stroke-width="1" />
<text x="36.3" y="453.88" font-size="8.2" text-anchor="end" fill="#303030" stroke="#303030" stroke-width="0.06" font-weight="normal" font-style="normal" >35</text>
<line x1="39.3" y1="436.1" x2="42.4" y2="436.1" stroke="#1a1a1a" stroke-width="1" />
<text x="36.3" y="439.0" font-size="8.2" text-anchor="end" fill="#303030" stroke="#303030" stroke-width="0.06" font-weight="normal" font-style="normal" >40</text>
<line x1="39.3" y1="421.225" x2="42.4" y2="421.225" stroke="#1a1a1a" stroke-width="1" />
<text x="36.3" y="424.12" font-size="8.2" text-anchor="end" fill="#303030" stroke="#303030" stroke-width="0.06" font-weight="normal" font-style="normal" >45</text>
<rect x="51.40" y="541.62" width="21.50" height="13.48" fill="#10498a" />
<text x="62.15" y="539.72" font-size="8.0" text-anchor="middle" fill="#303030" stroke="#303030" stroke-width="0.06" font-weight="normal" font-style="normal" >4.53%</text>
<line x1="62.150000000000006" y1="555.1" x2="62.150000000000006" y2="557.6" stroke="#1a1a1a" stroke-width="1" />
<rect x="89.50" y="540.94" width="21.70" height="14.16" fill="#c4042a" />
<text x="100.35" y="539.04" font-size="8.0" text-anchor="middle" fill="#303030" stroke="#303030" stroke-width="0.06" font-weight="normal" font-style="normal" >4.76%</text>
<line x1="100.35" y1="555.1" x2="100.35" y2="557.6" stroke="#1a1a1a" stroke-width="1" />
<rect x="161.00" y="537.07" width="21.60" height="18.03" fill="#10498a" />
<text x="171.8" y="535.17" font-size="8.0" text-anchor="middle" fill="#303030" stroke="#303030" stroke-width="0.06" font-weight="normal" font-style="normal" >6.06%</text>
<line x1="171.8" y1="555.1" x2="171.8" y2="557.6" stroke="#1a1a1a" stroke-width="1" />
<rect x="199.10" y="451.33" width="22.50" height="103.77" fill="#c4042a" />
<text x="210.35" y="449.43" font-size="8.0" text-anchor="middle" fill="#303030" stroke="#303030" stroke-width="0.06" font-weight="normal" font-style="normal" >34.88%</text>
<line x1="210.35" y1="555.1" x2="210.35" y2="557.6" stroke="#1a1a1a" stroke-width="1" />
<path d="M61.9,527.7 V523.5 H100.9 V527.7" fill="none" stroke="#1a1a1a" stroke-width="1"/>
<text x="81.7" y="520.8" font-size="7.8" text-anchor="middle" fill="#303030" stroke="#303030" stroke-width="0.06" textLength="26.6" lengthAdjust="spacing"><tspan font-style="italic">P</tspan> = .43</text>
<path d="M171.5,437.7 V433.8 H210.3 V437.7" fill="none" stroke="#1a1a1a" stroke-width="1"/>
<text x="165.8" y="430.3" font-size="7.8" text-anchor="start" fill="#303030" stroke="#303030" stroke-width="0.06"><tspan font-style="italic">P</tspan> = 2.35×10<tspan font-size="5.4" dy="-3.0">−3</tspan></text>
<text transform="translate(65.0,565.3) rotate(-45)" font-size="7.9" text-anchor="end" fill="#303030" stroke="#303030" stroke-width="0.06">n = 1058</text>
<text transform="translate(103.5,565.3) rotate(-45)" font-size="7.9" text-anchor="end" fill="#303030" stroke="#303030" stroke-width="0.06">n = 450804</text>
<text transform="translate(174.8,565.5) rotate(-45)" font-size="7.9" text-anchor="end" fill="#303030" stroke="#303030" stroke-width="0.06">n = 33</text>
<text transform="translate(213.3,565.5) rotate(-45)" font-size="7.9" text-anchor="end" fill="#303030" stroke="#303030" stroke-width="0.06">n = 969</text>
<text x="73.1" y="604.9" font-size="7.5" text-anchor="middle" fill="#303030" stroke="#303030" stroke-width="0.06" font-weight="normal" font-style="normal" textLength="42.2" lengthAdjust="spacingAndGlyphs" >UKB overall</text>
<text x="189.5" y="604.4" font-size="7.5" text-anchor="middle" fill="#303030" stroke="#303030" stroke-width="0.06" font-weight="normal" font-style="normal" textLength="70.5" lengthAdjust="spacingAndGlyphs" >UKB pre-MDS/AML</text>
<rect x="50.10" y="424.20" width="6.30" height="5.60" fill="#10498a" />
<rect x="50.10" y="435.40" width="6.30" height="5.60" fill="#c4042a" />
<text x="59.7" y="429.7" font-size="7.5" text-anchor="start" fill="#303030" stroke="#303030" stroke-width="0.06" font-weight="normal" font-style="normal" textLength="40.6" lengthAdjust="spacingAndGlyphs" >DDX41-GPV</text>
<text x="59.7" y="440.6" font-size="7.5" text-anchor="start" fill="#303030" stroke="#303030" stroke-width="0.06" font-weight="normal" font-style="normal" textLength="48.6" lengthAdjust="spacingAndGlyphs" >Control group</text>
<text transform="translate(20.4,487) rotate(-90)" font-size="8.0" text-anchor="middle" fill="#303030" stroke="#303030" stroke-width="0.06" textLength="108.7" lengthAdjust="spacingAndGlyphs">Frequency of CH mutations (%)</text>
<line x1="297.6" y1="432.0" x2="297.6" y2="479.5" stroke="#1a1a1a" stroke-width="1.1" />
<line x1="297.6" y1="483.3" x2="297.6" y2="555.3" stroke="#1a1a1a" stroke-width="1.1" />
<line x1="295.0" y1="481.8" x2="301.5" y2="478.0" stroke="#1a1a1a" stroke-width="1" />
<line x1="295.0" y1="485.6" x2="301.5" y2="481.8" stroke="#1a1a1a" stroke-width="1" />
<line x1="297.1" y1="555.0" x2="474.5" y2="555.0" stroke="#1a1a1a" stroke-width="1.1" />
<line x1="295" y1="434.3" x2="297.6" y2="434.3" stroke="#1a1a1a" stroke-width="1" />
<text x="291.3" y="436.9" font-size="7.5" text-anchor="end" fill="#303030" stroke="#303030" stroke-width="0.06" font-weight="normal" font-style="normal" >1850</text>
<line x1="295" y1="450.5" x2="297.6" y2="450.5" stroke="#1a1a1a" stroke-width="1" />
<text x="291.3" y="453.1" font-size="7.5" text-anchor="end" fill="#303030" stroke="#303030" stroke-width="0.06" font-weight="normal" font-style="normal" >1000</text>
<line x1="295" y1="466.6" x2="297.6" y2="466.6" stroke="#1a1a1a" stroke-width="1" />
<text x="291.3" y="469.2" font-size="7.5" text-anchor="end" fill="#303030" stroke="#303030" stroke-width="0.06" font-weight="normal" font-style="normal" >150</text>
<line x1="295" y1="493.0" x2="297.6" y2="493.0" stroke="#1a1a1a" stroke-width="1" />
<text x="291.3" y="495.6" font-size="7.5" text-anchor="end" fill="#303030" stroke="#303030" stroke-width="0.06" font-weight="normal" font-style="normal" >100</text>
<line x1="295" y1="523.9" x2="297.6" y2="523.9" stroke="#1a1a1a" stroke-width="1" />
<text x="291.3" y="526.5" font-size="7.5" text-anchor="end" fill="#303030" stroke="#303030" stroke-width="0.06" font-weight="normal" font-style="normal" >50</text>
<line x1="295" y1="555.0" x2="297.6" y2="555.0" stroke="#1a1a1a" stroke-width="1" />
<text x="291.3" y="557.6" font-size="7.5" text-anchor="end" fill="#303030" stroke="#303030" stroke-width="0.06" font-weight="normal" font-style="normal" >0</text>
<line x1="342.3" y1="555.0" x2="342.3" y2="557.3" stroke="#1a1a1a" stroke-width="1" />
<line x1="431.4" y1="555.0" x2="431.4" y2="557.3" stroke="#1a1a1a" stroke-width="1" />
<text x="315.4" y="437.3" font-size="7.6" text-anchor="start" fill="#303030" stroke="#303030" stroke-width="0.06" textLength="30.5" lengthAdjust="spacing"><tspan font-style="italic">P</tspan> = .093</text>
<text x="342.0" y="568.2" font-size="7.8" text-anchor="middle" fill="#303030" stroke="#303030" stroke-width="0.06" font-weight="normal" font-style="normal" textLength="63" lengthAdjust="spacingAndGlyphs" >DDX41-GPV AML</text>
<text x="341.8" y="577.8" font-size="7.8" text-anchor="middle" fill="#303030" stroke="#303030" stroke-width="0.06" font-weight="normal" font-style="normal" textLength="26.5" lengthAdjust="spacingAndGlyphs" >(n = 10)</text>
<text x="431.2" y="568.2" font-size="7.8" text-anchor="middle" fill="#303030" stroke="#303030" stroke-width="0.06" font-weight="normal" font-style="normal" textLength="50" lengthAdjust="spacingAndGlyphs" >Sporadic AML</text>
<text x="430.7" y="577.8" font-size="7.8" text-anchor="middle" fill="#303030" stroke="#303030" stroke-width="0.06" font-weight="normal" font-style="normal" textLength="32.9" lengthAdjust="spacingAndGlyphs" >(n = 141)</text>
<text transform="translate(269.6,491.2) rotate(-90)" font-size="8.4" text-anchor="middle" fill="#303030" stroke="#303030" stroke-width="0.06" textLength="87.7" lengthAdjust="spacingAndGlyphs">Number of SNVs per year</text>
<line x1="342.4" y1="530.5" x2="342.4" y2="547.4" stroke="#1e1e1e" stroke-width="1" />
<line x1="339" y1="530.5" x2="345.9" y2="530.5" stroke="#1e1e1e" stroke-width="1.2" />
<line x1="339" y1="547.4" x2="345.9" y2="547.4" stroke="#1e1e1e" stroke-width="1.2" />
<rect x="331.20" y="536.10" width="21.60" height="4.90" fill="#a8d8ee" />
<rect x="331.20" y="541.90" width="21.60" height="3.20" fill="#ccdcec" />
<line x1="331.2" y1="540.4" x2="352.8" y2="540.4" stroke="#e6a6c6" stroke-width="0.8" />
<line x1="331.2" y1="541.5" x2="355.1" y2="541.5" stroke="#3a2258" stroke-width="1.2" />
<circle cx="341.5" cy="503.5" r="1.15" fill="#858585" fill-opacity="0.9"/>
<circle cx="349.7" cy="530.5" r="1.15" fill="#858585" fill-opacity="0.9"/>
<circle cx="338.2" cy="535.2" r="1.15" fill="#858585" fill-opacity="0.9"/>
<circle cx="343" cy="538.6" r="1.15" fill="#858585" fill-opacity="0.9"/>
<circle cx="333.5" cy="544.5" r="1.15" fill="#858585" fill-opacity="0.9"/>
<circle cx="336.5" cy="545.5" r="1.15" fill="#858585" fill-opacity="0.9"/>
<circle cx="347" cy="539.2" r="1.15" fill="#858585" fill-opacity="0.9"/>
<circle cx="333.5" cy="539.8" r="1.15" fill="#858585" fill-opacity="0.9"/>
<circle cx="340" cy="543.5" r="1.15" fill="#858585" fill-opacity="0.9"/>
<circle cx="345.5" cy="542.8" r="1.15" fill="#858585" fill-opacity="0.9"/>
<rect x="420.40" y="531.50" width="22.20" height="7.50" fill="#b5dcf0" />
<circle cx="428.4" cy="434.6" r="1.1" fill="#7d7d7d"/>
<circle cx="437.2" cy="457.8" r="1.1" fill="#7d7d7d"/>
<circle cx="431.3" cy="463.4" r="1.1" fill="#7d7d7d"/>
<circle cx="426.1" cy="466.3" r="1.1" fill="#7d7d7d"/>
<circle cx="423.1" cy="493.3" r="1.1" fill="#7d7d7d"/>
<circle cx="431.7" cy="496.3" r="1.1" fill="#7d7d7d"/>
<circle cx="423.8" cy="503.4" r="1.1" fill="#7d7d7d"/>
<circle cx="431.4" cy="502.3" r="1.1" fill="#7d7d7d"/>
<circle cx="429.5" cy="508.8" r="1.1" fill="#7d7d7d"/>
<circle cx="432.1" cy="513.3" r="1.1" fill="#7d7d7d"/>
<circle cx="440.5" cy="513.9" r="1.1" fill="#7d7d7d"/>
<circle cx="434.6" cy="542.0" r="1.05" fill="#8f8070" fill-opacity="0.8"/>
<circle cx="423.0" cy="535.9" r="1.05" fill="#88857a" fill-opacity="0.8"/>
<circle cx="424.6" cy="545.7" r="1.05" fill="#88857a" fill-opacity="0.8"/>
<circle cx="431.6" cy="541.7" r="1.05" fill="#9a8a7a" fill-opacity="0.8"/>
<circle cx="425.3" cy="530.2" r="1.05" fill="#9a8a7a" fill-opacity="0.8"/>
<circle cx="422.6" cy="538.3" r="1.05" fill="#9a8a7a" fill-opacity="0.8"/>
<circle cx="428.5" cy="548.6" r="1.05" fill="#a07860" fill-opacity="0.8"/>
<circle cx="426.9" cy="532.3" r="1.05" fill="#7a7068" fill-opacity="0.8"/>
<circle cx="432.0" cy="548.7" r="1.05" fill="#a8604a" fill-opacity="0.8"/>
<circle cx="430.7" cy="548.8" r="1.05" fill="#8f8070" fill-opacity="0.8"/>
<circle cx="439.0" cy="537.8" r="1.05" fill="#7a7068" fill-opacity="0.8"/>
<circle cx="426.8" cy="540.6" r="1.05" fill="#8f8070" fill-opacity="0.8"/>
<circle cx="427.4" cy="537.7" r="1.05" fill="#8a6a50" fill-opacity="0.8"/>
<circle cx="437.9" cy="537.0" r="1.05" fill="#a8604a" fill-opacity="0.8"/>
<circle cx="434.1" cy="535.5" r="1.05" fill="#7a7068" fill-opacity="0.8"/>
<circle cx="429.8" cy="528.1" r="1.05" fill="#7a7068" fill-opacity="0.8"/>
<circle cx="422.2" cy="542.6" r="1.05" fill="#7a7068" fill-opacity="0.8"/>
<circle cx="425.0" cy="541.0" r="1.05" fill="#a07860" fill-opacity="0.8"/>
<circle cx="427.6" cy="543.2" r="1.05" fill="#88857a" fill-opacity="0.8"/>
<circle cx="432.7" cy="545.8" r="1.05" fill="#88857a" fill-opacity="0.8"/>
<circle cx="436.3" cy="545.1" r="1.05" fill="#8f8070" fill-opacity="0.8"/>
<circle cx="435.7" cy="538.3" r="1.05" fill="#7a7068" fill-opacity="0.8"/>
<circle cx="432.0" cy="539.9" r="1.05" fill="#8f8070" fill-opacity="0.8"/>
<circle cx="435.6" cy="526.6" r="1.05" fill="#9a8a7a" fill-opacity="0.8"/>
<circle cx="441.9" cy="541.0" r="1.05" fill="#9a8a7a" fill-opacity="0.8"/>
<circle cx="425.1" cy="545.2" r="1.05" fill="#8a6a50" fill-opacity="0.8"/>
<circle cx="428.1" cy="547.9" r="1.05" fill="#8f8070" fill-opacity="0.8"/>
<circle cx="431.2" cy="532.6" r="1.05" fill="#88857a" fill-opacity="0.8"/>
<circle cx="434.0" cy="524.6" r="1.05" fill="#8f8070" fill-opacity="0.8"/>
<circle cx="432.9" cy="537.3" r="1.05" fill="#7a7068" fill-opacity="0.8"/>
<circle cx="435.1" cy="534.9" r="1.05" fill="#a07860" fill-opacity="0.8"/>
<circle cx="433.2" cy="544.1" r="1.05" fill="#7a7068" fill-opacity="0.8"/>
<circle cx="436.5" cy="545.9" r="1.05" fill="#8f8070" fill-opacity="0.8"/>
<circle cx="440.1" cy="543.7" r="1.05" fill="#88857a" fill-opacity="0.8"/>
<circle cx="427.2" cy="547.9" r="1.05" fill="#8f8070" fill-opacity="0.8"/>
<circle cx="435.7" cy="538.3" r="1.05" fill="#a07860" fill-opacity="0.8"/>
<circle cx="433.4" cy="549.3" r="1.05" fill="#8a6a50" fill-opacity="0.8"/>
<circle cx="430.6" cy="550.8" r="1.05" fill="#7a7068" fill-opacity="0.8"/>
<circle cx="425.1" cy="546.6" r="1.05" fill="#7a7068" fill-opacity="0.8"/>
<circle cx="430.8" cy="530.9" r="1.05" fill="#7a7068" fill-opacity="0.8"/>
<circle cx="421.9" cy="538.3" r="1.05" fill="#7a7068" fill-opacity="0.8"/>
<circle cx="436.8" cy="536.6" r="1.05" fill="#9a8a7a" fill-opacity="0.8"/>
<circle cx="429.3" cy="535.8" r="1.05" fill="#a8604a" fill-opacity="0.8"/>
<circle cx="438.6" cy="535.6" r="1.05" fill="#8a6a50" fill-opacity="0.8"/>
<circle cx="432.1" cy="531.2" r="1.05" fill="#a07860" fill-opacity="0.8"/>
<circle cx="438.9" cy="535.7" r="1.05" fill="#7a7068" fill-opacity="0.8"/>
<circle cx="427.8" cy="532.5" r="1.05" fill="#7a7068" fill-opacity="0.8"/>
<circle cx="430.8" cy="549.0" r="1.05" fill="#88857a" fill-opacity="0.8"/>
<circle cx="436.5" cy="547.3" r="1.05" fill="#a07860" fill-opacity="0.8"/>
<circle cx="428.5" cy="521.9" r="1.05" fill="#7a7068" fill-opacity="0.8"/>
<circle cx="425.8" cy="537.6" r="1.05" fill="#9a8a7a" fill-opacity="0.8"/>
<circle cx="431.1" cy="534.5" r="1.05" fill="#a8604a" fill-opacity="0.8"/>
<circle cx="422.3" cy="544.4" r="1.05" fill="#7a7068" fill-opacity="0.8"/>
<circle cx="429.7" cy="543.0" r="1.05" fill="#8a6a50" fill-opacity="0.8"/>
<circle cx="438.6" cy="545.5" r="1.05" fill="#7a7068" fill-opacity="0.8"/>
<circle cx="434.3" cy="531.3" r="1.05" fill="#9a8a7a" fill-opacity="0.8"/>
<circle cx="433.2" cy="547.6" r="1.05" fill="#88857a" fill-opacity="0.8"/>
<circle cx="421.7" cy="541.2" r="1.05" fill="#a07860" fill-opacity="0.8"/>
<circle cx="435.2" cy="525.2" r="1.05" fill="#9a8a7a" fill-opacity="0.8"/>
<circle cx="435.6" cy="546.2" r="1.05" fill="#a07860" fill-opacity="0.8"/>
<circle cx="424.7" cy="545.0" r="1.05" fill="#8f8070" fill-opacity="0.8"/>
<circle cx="433.9" cy="534.7" r="1.05" fill="#a07860" fill-opacity="0.8"/>
<circle cx="425.3" cy="537.4" r="1.05" fill="#a07860" fill-opacity="0.8"/>
<circle cx="424.0" cy="539.1" r="1.05" fill="#8a6a50" fill-opacity="0.8"/>
<circle cx="420.6" cy="541.5" r="1.05" fill="#8f8070" fill-opacity="0.8"/>
<circle cx="424.0" cy="538.0" r="1.05" fill="#a8604a" fill-opacity="0.8"/>
<circle cx="423.2" cy="533.3" r="1.05" fill="#9a8a7a" fill-opacity="0.8"/>
<circle cx="438.6" cy="535.4" r="1.05" fill="#a07860" fill-opacity="0.8"/>
<circle cx="426.4" cy="543.1" r="1.05" fill="#8f8070" fill-opacity="0.8"/>
<circle cx="428.2" cy="542.7" r="1.05" fill="#9a8a7a" fill-opacity="0.8"/>
<circle cx="438.7" cy="542.5" r="1.05" fill="#a8604a" fill-opacity="0.8"/>
<circle cx="441.6" cy="537.1" r="1.05" fill="#8a6a50" fill-opacity="0.8"/>
<circle cx="426.0" cy="546.6" r="1.05" fill="#88857a" fill-opacity="0.8"/>
<circle cx="422.9" cy="538.3" r="1.05" fill="#8f8070" fill-opacity="0.8"/>
<circle cx="438.1" cy="543.1" r="1.05" fill="#88857a" fill-opacity="0.8"/>
<circle cx="425.2" cy="534.5" r="1.05" fill="#9a8a7a" fill-opacity="0.8"/>
<circle cx="431.5" cy="511.9" r="1.05" fill="#a8604a" fill-opacity="0.8"/>
<circle cx="424.0" cy="537.3" r="1.05" fill="#a8604a" fill-opacity="0.8"/>
<circle cx="432.0" cy="541.8" r="1.05" fill="#a8604a" fill-opacity="0.8"/>
<circle cx="441.9" cy="540.7" r="1.05" fill="#8a6a50" fill-opacity="0.8"/>
<circle cx="428.0" cy="530.5" r="1.05" fill="#9a8a7a" fill-opacity="0.8"/>
<circle cx="429.7" cy="546.8" r="1.05" fill="#8a6a50" fill-opacity="0.8"/>
<circle cx="431.9" cy="532.3" r="1.05" fill="#9a8a7a" fill-opacity="0.8"/>
<circle cx="434.0" cy="523.8" r="1.05" fill="#a07860" fill-opacity="0.8"/>
<circle cx="437.9" cy="542.5" r="1.05" fill="#9a8a7a" fill-opacity="0.8"/>
<circle cx="440.4" cy="534.8" r="1.05" fill="#a8604a" fill-opacity="0.8"/>
<circle cx="435.7" cy="529.5" r="1.05" fill="#8f8070" fill-opacity="0.8"/>
<circle cx="433.7" cy="547.8" r="1.05" fill="#a07860" fill-opacity="0.8"/>
<circle cx="428.3" cy="538.9" r="1.05" fill="#a07860" fill-opacity="0.8"/>
<circle cx="425.6" cy="528.1" r="1.05" fill="#9a8a7a" fill-opacity="0.8"/>
<circle cx="427.3" cy="533.0" r="1.05" fill="#a8604a" fill-opacity="0.8"/>
<circle cx="435.6" cy="539.1" r="1.05" fill="#88857a" fill-opacity="0.8"/>
<circle cx="437.5" cy="530.0" r="1.05" fill="#9a8a7a" fill-opacity="0.8"/>
<circle cx="441.7" cy="542.2" r="1.05" fill="#9a8a7a" fill-opacity="0.8"/>
<circle cx="427.1" cy="531.6" r="1.05" fill="#a8604a" fill-opacity="0.8"/>
<circle cx="425.6" cy="542.1" r="1.05" fill="#a07860" fill-opacity="0.8"/>
<circle cx="434.1" cy="538.5" r="1.05" fill="#7a7068" fill-opacity="0.8"/>
<circle cx="438.8" cy="534.7" r="1.05" fill="#a07860" fill-opacity="0.8"/>
<circle cx="434.3" cy="534.9" r="1.05" fill="#8a6a50" fill-opacity="0.8"/>
<circle cx="435.9" cy="545.9" r="1.05" fill="#a07860" fill-opacity="0.8"/>
<circle cx="436.1" cy="527.2" r="1.05" fill="#9a8a7a" fill-opacity="0.8"/>
<circle cx="436.3" cy="533.5" r="1.05" fill="#8a6a50" fill-opacity="0.8"/>
<circle cx="424.3" cy="540.2" r="1.05" fill="#8a6a50" fill-opacity="0.8"/>
<circle cx="435.1" cy="546.6" r="1.05" fill="#8f8070" fill-opacity="0.8"/>
<circle cx="438.8" cy="545.5" r="1.05" fill="#a8604a" fill-opacity="0.8"/>
<circle cx="430.5" cy="522.7" r="1.05" fill="#8a6a50" fill-opacity="0.8"/>
<circle cx="432.7" cy="549.5" r="1.05" fill="#8f8070" fill-opacity="0.8"/>
<circle cx="428.1" cy="525.1" r="1.05" fill="#8a6a50" fill-opacity="0.8"/>
<circle cx="439.7" cy="536.9" r="1.05" fill="#7a7068" fill-opacity="0.8"/>
<circle cx="437.7" cy="536.9" r="1.05" fill="#a07860" fill-opacity="0.8"/>
<circle cx="437.6" cy="528.9" r="1.05" fill="#a07860" fill-opacity="0.8"/>
<circle cx="432.9" cy="523.9" r="1.05" fill="#a8604a" fill-opacity="0.8"/>
<circle cx="425.0" cy="544.8" r="1.05" fill="#8f8070" fill-opacity="0.8"/>
<circle cx="424.4" cy="530.4" r="1.05" fill="#a07860" fill-opacity="0.8"/>
<circle cx="431.7" cy="524.9" r="1.05" fill="#8a6a50" fill-opacity="0.8"/>
<circle cx="440.7" cy="542.0" r="1.05" fill="#7a7068" fill-opacity="0.8"/>
<circle cx="433.5" cy="549.1" r="1.05" fill="#7a7068" fill-opacity="0.8"/>
<circle cx="426.6" cy="532.7" r="1.05" fill="#8a6a50" fill-opacity="0.8"/>
<circle cx="425.7" cy="540.3" r="1.05" fill="#7a7068" fill-opacity="0.8"/>
<circle cx="432.8" cy="532.6" r="1.05" fill="#8f8070" fill-opacity="0.8"/>
<circle cx="423.3" cy="540.7" r="1.05" fill="#8f8070" fill-opacity="0.8"/>
<circle cx="437.2" cy="530.1" r="1.05" fill="#88857a" fill-opacity="0.8"/>
<circle cx="432.9" cy="544.4" r="1.05" fill="#9a8a7a" fill-opacity="0.8"/>
<circle cx="437.8" cy="532.0" r="1.05" fill="#8f8070" fill-opacity="0.8"/>
<circle cx="431.4" cy="549.5" r="1.05" fill="#8f8070" fill-opacity="0.8"/>
<circle cx="431.8" cy="529.8" r="1.05" fill="#8a6a50" fill-opacity="0.8"/>
<circle cx="430.1" cy="541.6" r="1.05" fill="#8a6a50" fill-opacity="0.8"/>
<circle cx="424.4" cy="540.4" r="1.05" fill="#8f8070" fill-opacity="0.8"/>
<line x1="420.0" y1="536.2" x2="442.4" y2="536.2" stroke="#8a2060" stroke-width="1.3" />
<line x1="431.4" y1="518" x2="431.4" y2="552" stroke="#2a1a10" stroke-width="1.1" />
<line x1="427.6" y1="518" x2="435.3" y2="518" stroke="#2a1a10" stroke-width="1.1" />
<line x1="426.5" y1="552" x2="435.5" y2="552" stroke="#2a1a10" stroke-width="1.1" />
<rect x="0" y="0" width="520" height="1" fill="#5e5e5e"/><rect x="0" y="0" width="1.05" height="614" fill="#585858"/><rect x="518.8" y="0" width="1.2" height="614" fill="#525252"/><rect x="0" y="612.7" width="520" height="1.3" fill="#4a4a4a"/>
</svg></div></body></html>
